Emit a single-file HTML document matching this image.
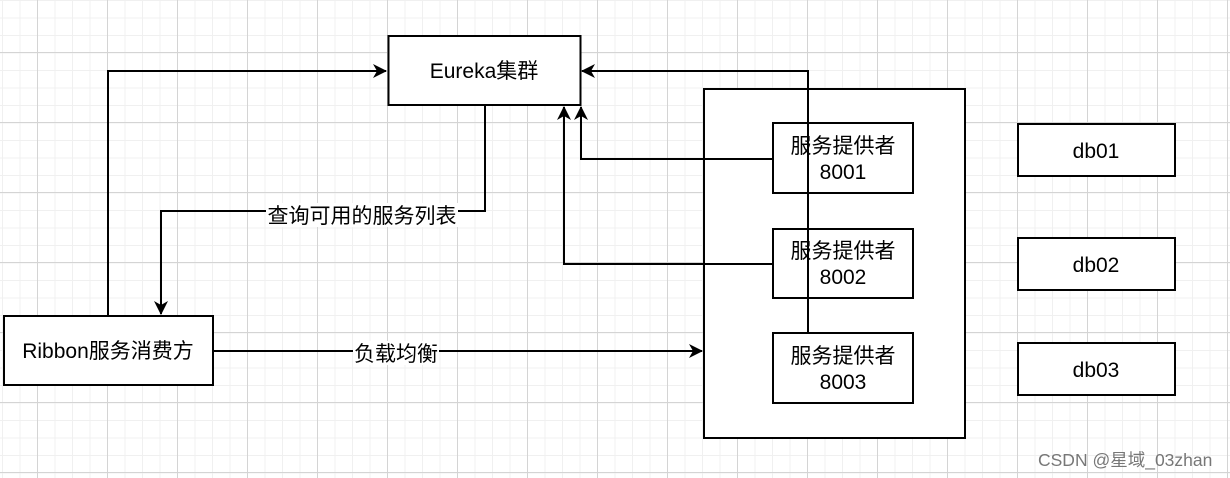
<!DOCTYPE html>
<html><head><meta charset="utf-8"><style>
html,body{margin:0;padding:0;}
body{width:1230px;height:478px;overflow:hidden;position:relative;background-color:#fff;
background-image:
linear-gradient(to right,#d4d4d4 1px,transparent 1px),
linear-gradient(to bottom,#d4d4d4 1px,transparent 1px),
linear-gradient(to right,#f0f0f0 1px,transparent 1px),
linear-gradient(to bottom,#f0f0f0 1px,transparent 1px);
background-size:70px 70px,70px 70px,17.5px 17.5px,17.5px 17.5px;
background-position:37px 52px,37px 52px,2px 0px,2px 0px;
font-family:"Liberation Sans","Noto Sans CJK SC",sans-serif;}
svg{position:absolute;left:0;top:0;}
text{font-family:"Liberation Sans","Noto Sans CJK SC",sans-serif;font-size:21px;fill:#000;}
</style></head><body>
<svg width="1230" height="478" viewBox="0 0 1230 478">
<defs><marker id="a" markerWidth="16" markerHeight="16" refX="13" refY="7" orient="auto" markerUnits="userSpaceOnUse">
<path d="M0,0 L14,7 L0,14 L4,7 Z" fill="#000"/></marker></defs>
<g fill="#fff" stroke="#000" stroke-width="2">
<rect x="388.5" y="36" width="192" height="69"/>
<rect x="704" y="89" width="261" height="349"/>
<rect x="773" y="123" width="140" height="70"/>
<rect x="773" y="229" width="140" height="69"/>
<rect x="773" y="333" width="140" height="70"/>
<rect x="1018" y="124" width="157" height="52"/>
<rect x="1018" y="238" width="157" height="52"/>
<rect x="1018" y="343" width="157" height="52"/>
<rect x="4" y="316" width="209" height="69"/>
</g>
<g fill="none" stroke="#000" stroke-width="2">
<path d="M808 333 V71 H582" marker-end="url(#a)"/>
<path d="M773 159 H581 V107" marker-end="url(#a)"/>
<path d="M773 264 H564 V107" marker-end="url(#a)"/>
<path d="M108 316 V71 H386" marker-end="url(#a)"/>
<path d="M485 105 V211 H161 V314" marker-end="url(#a)"/>
<path d="M213 351 H702" marker-end="url(#a)"/>
</g>
<rect x="266" y="203" width="192" height="24" fill="#fff"/>
<rect x="353" y="341" width="86" height="24" fill="#fff"/>
<text x="362" y="223" text-anchor="middle">查询可用的服务列表</text>
<text x="396" y="361" text-anchor="middle">负载均衡</text>
<text x="484" y="78" text-anchor="middle">Eureka集群</text>
<text x="108" y="358" text-anchor="middle">Ribbon服务消费方</text>
<text x="843" y="153" text-anchor="middle">服务提供者</text>
<text x="843" y="179" text-anchor="middle">8001</text>
<text x="843" y="258" text-anchor="middle">服务提供者</text>
<text x="843" y="284" text-anchor="middle">8002</text>
<text x="843" y="363" text-anchor="middle">服务提供者</text>
<text x="843" y="389" text-anchor="middle">8003</text>
<text x="1096" y="158" text-anchor="middle">db01</text>
<text x="1096" y="272" text-anchor="middle">db02</text>
<text x="1096" y="377" text-anchor="middle">db03</text>
<text x="1038" y="466" style="font-size:17.5px;fill:#777">CSDN @星域_03zhan</text>
</svg>
</body></html>
